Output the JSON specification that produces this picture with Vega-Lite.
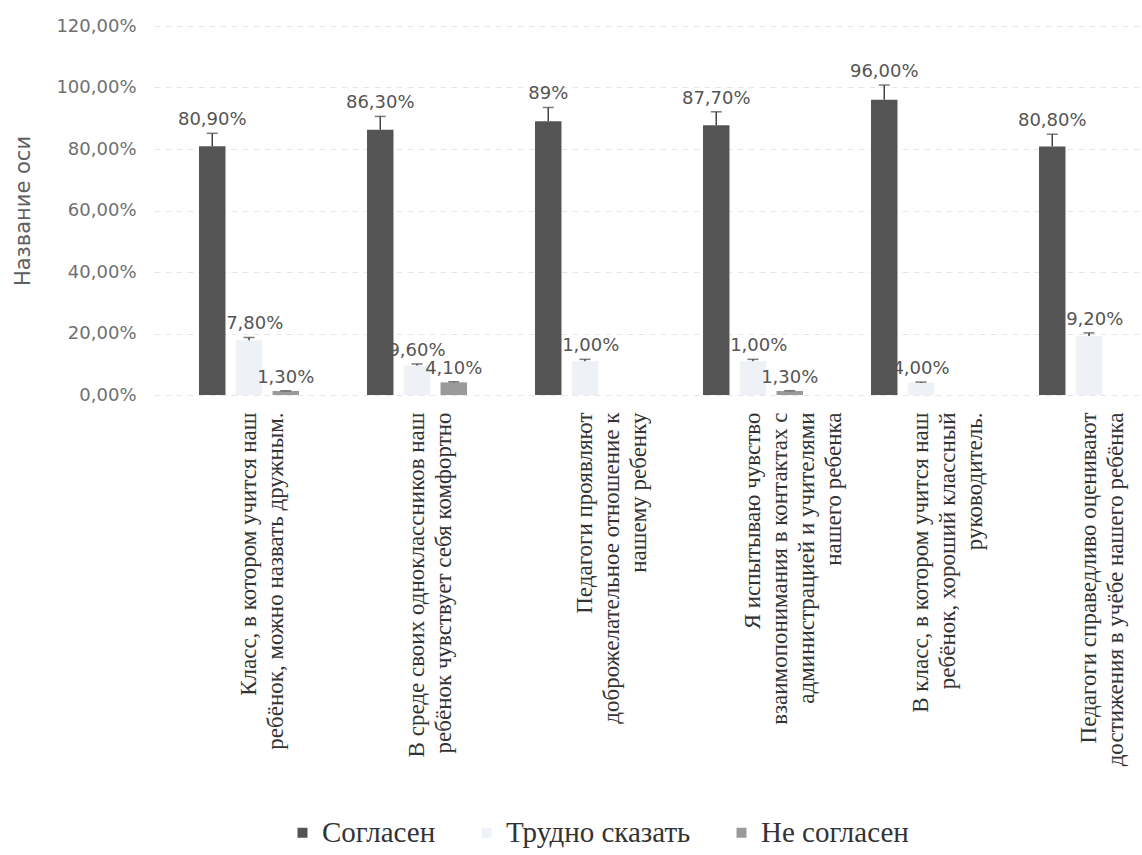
{
  "$schema": "https://vega.github.io/schema/vega-lite/v6.json",
  "width": 987,
  "height": 369,
  "padding": {"left": 12, "top": 17, "right": 0, "bottom": 0},
  "autosize": {"type": "pad"},
  "background": "white",
  "config": {
    "locale": {"number": {"decimal": ",", "thousands": " ", "grouping": [3], "currency": ["", ""]}},
    "view": {"stroke": null}
  },
  "data": {
    "values": [
      {"cat": "Класс, в котором учится наш|ребёнок, можно назвать дружным.", "series": "Согласен", "value": 0.809, "upper": 0.851, "label": "80,90%"},
      {"cat": "Класс, в котором учится наш|ребёнок, можно назвать дружным.", "series": "Трудно сказать", "value": 0.178, "upper": 0.187, "label": "17,80%"},
      {"cat": "Класс, в котором учится наш|ребёнок, можно назвать дружным.", "series": "Не согласен", "value": 0.013, "upper": 0.014, "label": "1,30%"},
      {"cat": "В среде своих одноклассников наш|ребёнок чувствует себя комфортно", "series": "Согласен", "value": 0.863, "upper": 0.906, "label": "86,30%"},
      {"cat": "В среде своих одноклассников наш|ребёнок чувствует себя комфортно", "series": "Трудно сказать", "value": 0.096, "upper": 0.101, "label": "9,60%"},
      {"cat": "В среде своих одноклассников наш|ребёнок чувствует себя комфортно", "series": "Не согласен", "value": 0.041, "upper": 0.043, "label": "4,10%"},
      {"cat": "Педагоги проявляют|доброжелательное отношение к|нашему ребенку", "series": "Согласен", "value": 0.89, "upper": 0.935, "label": "89%"},
      {"cat": "Педагоги проявляют|доброжелательное отношение к|нашему ребенку", "series": "Трудно сказать", "value": 0.11, "upper": 0.116, "label": "11,00%"},
      {"cat": "Я испытываю чувство|взаимопонимания в контактах с|администрацией и учителями|нашего ребенка", "series": "Согласен", "value": 0.877, "upper": 0.921, "label": "87,70%"},
      {"cat": "Я испытываю чувство|взаимопонимания в контактах с|администрацией и учителями|нашего ребенка", "series": "Трудно сказать", "value": 0.11, "upper": 0.116, "label": "11,00%"},
      {"cat": "Я испытываю чувство|взаимопонимания в контактах с|администрацией и учителями|нашего ребенка", "series": "Не согласен", "value": 0.013, "upper": 0.014, "label": "1,30%"},
      {"cat": "В класс, в котором учится наш|ребёнок, хороший классный|руководитель.", "series": "Согласен", "value": 0.96, "upper": 1.008, "label": "96,00%"},
      {"cat": "В класс, в котором учится наш|ребёнок, хороший классный|руководитель.", "series": "Трудно сказать", "value": 0.04, "upper": 0.042, "label": "4,00%"},
      {"cat": "Педагоги справедливо оценивают|достижения в учёбе нашего ребёнка", "series": "Согласен", "value": 0.808, "upper": 0.848, "label": "80,80%"},
      {"cat": "Педагоги справедливо оценивают|достижения в учёбе нашего ребёнка", "series": "Трудно сказать", "value": 0.192, "upper": 0.202, "label": "19,20%"}
    ]
  },
  "encoding": {
    "x": {
      "field": "cat",
      "type": "nominal",
      "sort": null,
      "scale": {"paddingInner": 0.405, "paddingOuter": 0.14, "align": 0.957},
      "axis": {
        "title": null,
        "labelAngle": 270,
        "labelExpr": "split(datum.value, '|')",
        "labelFont": "Liberation Serif",
        "labelFontSize": 23,
        "labelLineHeight": 27,
        "labelColor": "#333333",
        "labelPadding": 17,
        "labelLimit": 450,
        "ticks": false,
        "domain": false,
        "grid": false
      }
    },
    "xOffset": {
      "field": "series",
      "type": "nominal",
      "sort": ["Согласен", "Трудно сказать", "Не согласен"],
      "scale": {"paddingInner": 0.28, "paddingOuter": 0}
    }
  },
  "layer": [
    {
      "mark": {"type": "bar"},
      "encoding": {
        "y": {
          "field": "value",
          "type": "quantitative",
          "title": "Название оси",
          "scale": {"domain": [0, 1.2], "nice": false},
          "axis": {
            "values": [0, 0.2, 0.4, 0.6, 0.8, 1.0, 1.2],
            "format": ".2%",
            "labelFont": "DejaVu Sans",
            "labelFontSize": 18,
            "labelColor": "#707070",
            "labelPadding": 18,
            "ticks": false,
            "domain": false,
            "grid": true,
            "gridColor": "#e6e6e6",
            "gridDash": [6, 5],
            "titleFont": "DejaVu Sans",
            "titleFontSize": 21,
            "titleFontWeight": "normal",
            "titleColor": "#606060",
            "titlePadding": 22
          }
        },
        "color": {
          "field": "series",
          "type": "nominal",
          "scale": {
            "domain": ["Согласен", "Трудно сказать", "Не согласен"],
            "range": ["#545454", "#eef2f6", "#9a9a9a"]
          },
          "legend": {
            "title": null,
            "orient": "none",
            "legendX": 134,
            "legendY": 792,
            "direction": "horizontal",
            "symbolType": "square",
            "symbolSize": 100,
            "symbolStrokeWidth": 0,
            "labelFont": "Liberation Serif",
            "labelFontSize": 29,
            "labelColor": "#333333",
            "labelOffset": 5,
            "columnPadding": 36,
            "labelLimit": 400
          }
        }
      }
    },
    {
      "mark": {"type": "rule", "color": "#444444", "strokeWidth": 1.5},
      "encoding": {
        "y": {"field": "value", "type": "quantitative", "title": "Название оси"},
        "y2": {"field": "upper"}
      }
    },
    {
      "mark": {"type": "tick", "color": "#444444", "thickness": 1.5, "size": 11, "orient": "horizontal"},
      "encoding": {
        "y": {"field": "upper", "type": "quantitative", "title": "Название оси"}
      }
    },
    {
      "mark": {"type": "text", "font": "DejaVu Sans", "fontSize": 18, "color": "#555555", "baseline": "alphabetic", "dy": -8},
      "encoding": {
        "y": {"field": "upper", "type": "quantitative", "title": "Название оси"},
        "text": {"field": "label"}
      }
    }
  ]
}
